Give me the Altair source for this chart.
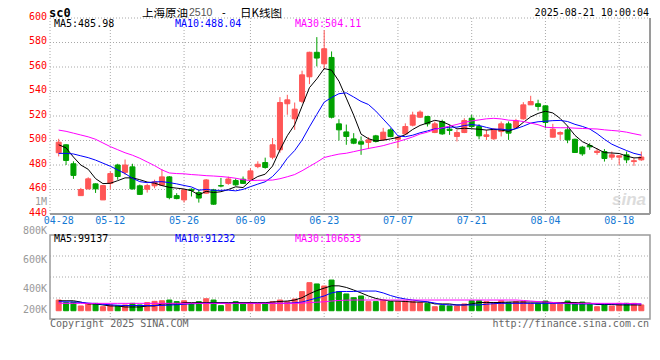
import altair as alt
import pandas as pd

# ---------------- data ----------------
dates = [
    "04-28", "04-29", "04-30", "05-06", "05-07", "05-08", "05-09", "05-12", "05-13", "05-14",
    "05-15", "05-16", "05-19", "05-20", "05-21", "05-22", "05-23", "05-26", "05-27", "05-28",
    "05-29", "05-30", "06-03", "06-04", "06-05", "06-06", "06-09", "06-10", "06-11", "06-12",
    "06-13", "06-16", "06-17", "06-18", "06-19", "06-20", "06-23", "06-24", "06-25", "06-26",
    "06-27", "06-30", "07-01", "07-02", "07-03", "07-04", "07-07", "07-08", "07-09", "07-10",
    "07-11", "07-14", "07-15", "07-16", "07-17", "07-18", "07-21", "07-22", "07-23", "07-24",
    "07-25", "07-28", "07-29", "07-30", "07-31", "08-01", "08-04", "08-05", "08-06", "08-07",
    "08-08", "08-11", "08-12", "08-13", "08-14", "08-15", "08-18", "08-19", "08-20", "08-21",
]
opens = [
    490.0, 496.5, 481.0, 455.0, 460.5, 464.6, 451.5, 465.0, 480.0, 474.0,
    478.5, 463.0, 460.2, 463.0, 463.5, 470.3, 455.0, 451.5, 460.2, 457.5,
    457.0, 459.7, 463.2, 465.0, 467.3, 468.4, 468.4, 478.7, 482.0, 486.4,
    492.4, 530.0, 517.7, 532.0, 552.0, 572.0, 562.6, 567.8, 513.6, 507.0,
    501.3, 499.0, 498.4, 503.8, 500.5, 508.7, 501.0, 505.4, 512.5, 519.0,
    519.6, 506.5, 515.5, 509.3, 503.3, 506.5, 518.2, 511.4, 503.3, 501.4,
    507.3, 513.6, 510.6, 517.7, 529.1, 530.0, 528.3, 502.7, 505.2, 508.7,
    501.0, 494.6, 495.9, 490.2, 491.0, 486.4, 486.4, 488.3, 482.8, 484.2,
]
highs = [
    501.4, 497.0, 483.0, 461.3, 470.0, 465.0, 463.5, 474.7, 481.0, 484.5,
    481.0, 464.0, 464.6, 468.0, 476.6, 471.0, 457.0, 460.2, 461.0, 460.2,
    468.5, 460.5, 469.5, 470.5, 469.0, 470.6, 477.4, 483.0, 486.0, 502.0,
    535.4, 537.3, 531.0, 557.0, 572.5, 584.4, 590.0, 572.7, 517.4, 513.0,
    506.0, 503.3, 502.7, 504.6, 510.3, 510.0, 503.8, 514.0, 523.5, 524.6,
    520.2, 515.5, 517.0, 512.8, 508.7, 518.2, 521.0, 513.3, 508.7, 510.0,
    515.5, 515.5, 517.7, 531.3, 536.5, 533.3, 528.5, 513.6, 507.5, 511.4,
    501.5, 495.6, 497.8, 493.7, 493.0, 491.0, 488.0, 491.0, 485.6, 491.0,
]
lows = [
    487.0, 480.0, 468.7, 454.8, 460.2, 457.2, 451.5, 460.0, 468.0, 472.0,
    460.0, 455.5, 457.5, 461.0, 463.0, 452.0, 452.0, 449.3, 454.3, 449.3,
    456.5, 447.5, 461.8, 463.8, 463.0, 464.5, 468.0, 477.4, 477.0, 484.7,
    490.0, 521.0, 508.7, 530.5, 546.0, 560.5, 558.0, 518.0, 500.0, 496.5,
    497.0, 488.3, 493.0, 498.4, 500.0, 502.7, 493.7, 504.6, 511.5, 518.3,
    511.4, 506.0, 504.6, 504.6, 499.2, 506.0, 510.0, 501.0, 500.5, 500.5,
    503.3, 500.5, 510.0, 517.0, 529.0, 524.5, 510.0, 502.5, 500.5, 497.8,
    490.0, 487.5, 492.4, 488.3, 482.8, 484.2, 480.0, 481.5, 479.3, 483.4,
]
closes = [
    498.6, 483.7, 471.5, 460.0, 468.7, 460.5, 463.2, 473.0, 470.6, 480.0,
    460.5, 456.0, 463.2, 466.2, 470.3, 453.4, 452.6, 459.7, 459.2, 453.0,
    467.8, 448.0, 462.8, 468.6, 463.8, 465.0, 475.2, 480.6, 478.0, 496.5,
    531.0, 533.2, 525.6, 553.6, 572.0, 567.3, 574.9, 519.0, 508.7, 503.3,
    497.8, 497.0, 500.5, 499.2, 506.8, 503.2, 502.7, 511.4, 520.8, 523.2,
    513.6, 513.6, 505.4, 508.2, 506.5, 516.3, 511.4, 503.8, 504.6, 509.3,
    513.6, 506.0, 516.0, 529.1, 531.8, 527.8, 514.7, 509.3, 506.5, 500.5,
    490.2, 489.1, 494.8, 491.3, 485.3, 488.3, 487.5, 484.2, 483.5, 486.5,
]
ma5 = [
    496.5, 494.0, 486.5, 480.0, 476.5, 468.9, 464.8, 465.1, 467.2, 469.5,
    469.5, 468.0, 466.1, 465.2, 463.2, 461.8, 461.1, 460.4, 459.0, 455.6,
    458.5, 457.5, 458.2, 460.0, 462.2, 461.6, 467.1, 470.6, 472.5, 479.1,
    492.3, 503.9, 512.9, 528.0, 543.1, 550.3, 558.7, 557.4, 548.4, 534.6,
    520.7, 505.2, 501.5, 499.6, 500.3, 501.3, 502.5, 504.7, 509.0, 512.3,
    514.3, 516.5, 515.3, 512.8, 509.5, 510.0, 509.6, 509.2, 508.5, 509.1,
    508.5, 507.5, 509.9, 514.8, 519.3, 522.1, 523.9, 522.5, 518.0, 511.8,
    504.2, 499.1, 496.2, 493.2, 490.1, 489.8, 489.4, 487.3, 485.8, 486.0,
]
ma10 = [
    489.5, 489.5, 489.0, 487.5, 486.0, 484.0, 481.5, 479.0, 476.0, 473.0,
    469.2, 466.4, 465.6, 466.2, 466.4, 465.6, 464.6, 463.3, 462.1, 459.4,
    460.1, 459.3, 459.3, 459.5, 458.9, 460.1, 462.3, 464.4, 466.3, 470.6,
    477.0, 485.5, 491.8, 500.3, 511.1, 521.3, 531.3, 535.1, 538.2, 538.9,
    535.5, 531.9, 529.4, 524.0, 517.5, 511.0, 503.8, 503.1, 504.3, 506.3,
    507.8, 509.5, 510.0, 510.9, 510.9, 512.2, 513.0, 512.3, 510.7, 509.3,
    509.3, 508.5, 509.6, 511.7, 514.2, 515.3, 515.7, 516.2, 516.4, 515.5,
    513.2, 511.5, 509.4, 505.6, 501.0, 497.0, 494.3, 491.8, 489.5, 488.1,
]
ma30 = [
    508.5, 507.5, 506.0, 504.5, 503.0, 501.0, 498.0, 495.0, 492.5, 490.0,
    488.0, 485.5, 482.5, 479.5, 476.0, 473.5, 473.0, 472.8, 472.2, 471.8,
    471.3, 471.0, 470.6, 470.0, 469.2, 468.0, 467.3, 467.5, 467.6, 467.7,
    468.8, 470.4, 472.2, 475.3, 478.8, 482.3, 486.1, 487.6, 488.9, 489.6,
    490.9, 492.2, 493.5, 494.6, 495.8, 497.5, 499.1, 500.9, 502.9, 505.3,
    506.8, 509.0, 510.4, 511.7, 513.1, 514.8, 516.0, 516.8, 517.7, 518.1,
    517.6, 516.6, 516.3, 515.5, 514.2, 512.9, 510.8, 510.5, 510.4, 510.4,
    510.1, 509.8, 509.6, 509.4, 508.7, 508.2, 507.7, 506.8, 505.5, 504.3,
]
# volume, in thousands, on the scale printed at the left of the volume panel
volumes = [
    321, 303, 307, 280, 294, 298, 275, 287, 280, 287,
    298, 287, 303, 312, 316, 321, 310, 316, 298, 310,
    330, 321, 282, 298, 310, 298, 303, 294, 294, 310,
    321, 310, 328, 379, 441, 432, 418, 459, 379, 363,
    337, 349, 310, 310, 321, 310, 310, 314, 310, 303,
    298, 275, 282, 280, 280, 294, 316, 316, 310, 303,
    316, 303, 310, 310, 298, 298, 314, 298, 298, 314,
    298, 307, 292, 275, 287, 280, 298, 298, 298, 287,
]
vol_base = 247  # level the volume bars stand on
vol_ma5 = [
    316, 316, 316, 307, 294, 294, 287, 280, 280, 273,
    273, 273, 280, 280, 294, 294, 294, 303, 303, 303,
    303, 303, 303, 303, 303, 303, 303, 303, 303, 307,
    311, 314, 321, 337, 364, 386, 403, 419, 419, 408,
    390, 370, 349, 332, 321, 314, 314, 311, 307, 307,
    307, 294, 294, 294, 287, 287, 294, 304, 304, 304,
    304, 307, 307, 307, 307, 307, 307, 304, 304, 304,
    304, 300, 300, 290, 290, 290, 287, 287, 287, 287,
]
vol_ma10 = [
    309, 309, 307, 305, 300, 296, 292, 288, 285, 283,
    283, 283, 283, 283, 284, 286, 289, 292, 295, 297,
    298, 298, 298, 298, 298, 298, 298, 298, 298, 298,
    298, 299, 302, 307, 321, 335, 349, 370, 380, 380,
    380, 383, 383, 383, 370, 352, 338, 328, 321, 314,
    309, 300, 290, 287, 287, 287, 287, 287, 292, 296,
    298, 298, 298, 298, 298, 298, 298, 298, 298, 296,
    294, 294, 294, 294, 294, 294, 294, 294, 294, 294,
]
vol_ma30 = [
    298, 298, 298, 298, 298, 298, 298, 298, 298, 298,
    298, 298, 298, 298, 298, 298, 298, 298, 298, 298,
    298, 298, 298, 298, 298, 298, 298, 298, 298, 298,
    298, 298, 298, 300, 303, 306, 309, 314, 318, 320,
    321, 321, 321, 321, 321, 321, 321, 321, 321, 321,
    321, 321, 321, 321, 321, 321, 321, 321, 321, 321,
    321, 321, 321, 318, 314, 310, 307, 304, 301, 298,
    298, 298, 298, 298, 298, 298, 298, 298, 296, 294,
]
x_tick_labels = ["04-28", "05-12", "05-26", "06-09", "06-23", "07-07", "07-21", "08-04", "08-18"]
price_ticks = [600, 580, 560, 540, 520, 500, 480, 460, 440]
vol_tick_values = [1000, 800, 600, 400, 200]
vol_tick_labels = ["1M", "800K", "600K", "400K", "200K"]
ma_names = ["MA5", "MA10", "MA30"]
price_ma_text = ["MA5:485.98", "MA10:488.04", "MA30:504.11"]
vol_ma_text = ["MA5:99137", "MA10:91232", "MA30:106633"]
symbol = "sc0"
title_name = "上海原油"
title_code = "2510"
title_dash = "-"
title_kind = "日K线图"
timestamp = "2025-08-21 10:00:04"
footer_left = "Copyright 2025 SINA.COM"
footer_right = "http://finance.sina.com.cn"
watermark = "sina"

# ---------------- layout / style ----------------
W = 600            # plot width (both panels)
PH = 196           # price panel height
VT, VB = 217, 301  # volume panel top / bottom inside the view
H = VB
MONO = "DejaVu Sans Mono"
CJK = "Noto Sans CJK SC"
UP, DOWN = "#ff5656", "#00a100"
GRID = "#a8a8a8"
FRAME = "#9a9a9a"
MA_COLORS = ["#000000", "#0000ff", "#ff00ff"]
VOL_LO, VOL_HI = 190, 770
FS = 10

n = len(dates)
for arr in (opens, highs, lows, closes, ma5, ma10, ma30, volumes, vol_ma5, vol_ma10, vol_ma30):
    assert len(arr) == n

df = pd.DataFrame({"i": range(n), "date": dates, "open": opens, "high": highs,
                   "low": lows, "close": closes, "vol": volumes})
df["dir"] = ["up" if c >= o else "down" for o, c in zip(opens, closes)]

ma_df = pd.concat([pd.DataFrame({"i": range(n), "v": s, "ma": name})
                   for name, s in zip(ma_names, [ma5, ma10, ma30])])
vma_df = pd.concat([pd.DataFrame({"i": range(n), "v": s, "ma": name})
                    for name, s in zip(ma_names, [vol_ma5, vol_ma10, vol_ma30])])

tick_df = pd.DataFrame({"label": x_tick_labels, "i": [dates.index(d) for d in x_tick_labels]})
grid_df = tick_df.iloc[1:]
one = pd.DataFrame({"k": [0]})

x_scale = alt.Scale(domain=[-0.5, n - 0.5], nice=False, zero=False)
p_scale = alt.Scale(domain=[440, 600], range=[PH, 0], nice=False, zero=False)
v_scale = alt.Scale(domain=[VOL_LO, VOL_HI], range=[VB, VT], nice=False, zero=False)
X = alt.X("i:Q", scale=x_scale, axis=None)
dir_scale = alt.Scale(domain=["up", "down"], range=[UP, DOWN])
ma_scale = alt.Scale(domain=ma_names, range=MA_COLORS)

layers = []

# --- watermark (behind everything) ---
layers.append(alt.Chart(one).mark_text(text=watermark, align="right", baseline="middle", font="Liberation Sans",
                                       fontSize=17, fontWeight="bold", fontStyle="italic", color="#dcdcdc")
              .encode(x=alt.value(W - 4), y=alt.value(PH - 14)))

# --- price panel frame and grid ---
layers.append(alt.Chart(pd.DataFrame({"p": [p for p in price_ticks if p > 440]}))
              .mark_rule(color=GRID, strokeDash=[1, 2], strokeWidth=1)
              .encode(y=alt.Y("p:Q", scale=p_scale, axis=None), x=alt.value(0), x2=alt.value(W)))
layers.append(alt.Chart(grid_df).mark_rule(color=GRID, strokeDash=[1, 2], strokeWidth=1)
              .encode(x=X, y=alt.value(0), y2=alt.value(PH)))
layers.append(alt.Chart(one).mark_rule(color=GRID, strokeDash=[1, 2], strokeWidth=1)
              .encode(x=alt.value(0), y=alt.value(0), y2=alt.value(PH)))
layers.append(alt.Chart(one).mark_rule(color=FRAME, strokeWidth=2)
              .encode(x=alt.value(W), y=alt.value(0), y2=alt.value(PH)))
layers.append(alt.Chart(one).mark_rule(color=FRAME, strokeWidth=2)
              .encode(y=alt.value(PH), x=alt.value(0), x2=alt.value(W)))

# --- volume panel frame and grid ---
layers.append(alt.Chart(pd.DataFrame({"q": [VOL_LO + (VOL_HI - VOL_LO) * k / 4 for k in (1, 2, 3)]}))
              .mark_rule(color=GRID, strokeDash=[1, 2], strokeWidth=1)
              .encode(y=alt.Y("q:Q", scale=v_scale, axis=None), x=alt.value(0), x2=alt.value(W)))
layers.append(alt.Chart(grid_df).mark_rule(color=GRID, strokeDash=[1, 2], strokeWidth=1)
              .encode(x=X, y=alt.value(VT), y2=alt.value(VB)))
layers.append(alt.Chart(one).mark_rect(fillOpacity=0, stroke=FRAME, strokeWidth=1.5)
              .encode(x=alt.value(0), x2=alt.value(W), y=alt.value(VT), y2=alt.value(VB)))

# --- volume bars and their moving averages ---
layers.append(alt.Chart(df).transform_calculate(vb=str(vol_base))
              .mark_bar(size=5, strokeWidth=1)
              .encode(x=X, y=alt.Y("vol:Q", scale=v_scale, axis=None), y2="vb:Q",
                      color=alt.Color("dir:N", scale=dir_scale, legend=None),
                      stroke=alt.Stroke("dir:N", scale=dir_scale, legend=None)))
layers.append(alt.Chart(vma_df).mark_line(strokeWidth=1)
              .encode(x=X, y=alt.Y("v:Q", scale=v_scale, axis=None),
                      color=alt.Color("ma:N", scale=ma_scale, legend=None)))

# --- candles ---
layers.append(alt.Chart(df).mark_rule(strokeWidth=1)
              .encode(x=X, y=alt.Y("low:Q", scale=p_scale, axis=None), y2="high:Q",
                      color=alt.Color("dir:N", scale=dir_scale, legend=None)))
layers.append(alt.Chart(df).mark_bar(size=5, strokeWidth=1)
              .encode(x=X, y=alt.Y("open:Q", scale=p_scale, axis=None), y2="close:Q",
                      color=alt.Color("dir:N", scale=dir_scale, legend=None),
                      stroke=alt.Stroke("dir:N", scale=dir_scale, legend=None)))
layers.append(alt.Chart(ma_df).mark_line(strokeWidth=1)
              .encode(x=X, y=alt.Y("v:Q", scale=p_scale, axis=None),
                      color=alt.Color("ma:N", scale=ma_scale, legend=None)))

# --- axis labels ---
layers.append(alt.Chart(pd.DataFrame({"p": price_ticks}))
              .mark_text(align="right", baseline="middle", font=MONO, fontSize=FS, color="#ff0000", dy=-1.5)
              .encode(y=alt.Y("p:Q", scale=p_scale, axis=None), x=alt.value(-3), text=alt.Text("p:Q")))
layers.append(alt.Chart(pd.DataFrame({"v": vol_tick_values, "t": vol_tick_labels}))
              .transform_calculate(vy="max(datum.v, 255)")
              .mark_text(align="right", baseline="middle", font=MONO, fontSize=FS, color="#999999")
              .encode(y=alt.Y("vy:Q", scale=v_scale, axis=None), x=alt.value(-3), text="t:N"))
layers.append(alt.Chart(tick_df)
              .mark_text(align="center", baseline="middle", font=MONO, fontSize=FS, color="#1479d4")
              .encode(x=X, y=alt.value(PH + 7), text="label:N"))

# --- MA legends ---
for txt, col, xpx in zip(price_ma_text, MA_COLORS, [4, 125, 245]):
    layers.append(alt.Chart(one).mark_text(text=txt, align="left", baseline="middle", font=MONO,
                                           fontSize=FS, color=col)
                  .encode(x=alt.value(xpx), y=alt.value(5.5)))
for txt, col, xpx in zip(vol_ma_text, MA_COLORS, [4, 125, 245]):
    layers.append(alt.Chart(one).mark_text(text=txt, align="left", baseline="middle", font=MONO,
                                           fontSize=FS, color=col)
                  .encode(x=alt.value(xpx), y=alt.value(VT + 4)))

# --- titles and footers ---
def label(txt, xpx, ypx, baseline="alphabetic", **kw):
    return (alt.Chart(one).mark_text(text=txt, baseline=baseline, **kw)
            .encode(x=alt.value(xpx), y=alt.value(ypx)))

layers.append(label(symbol, -1, -1.5, align="left", font=MONO, fontSize=12, fontWeight="bold", color="#000000"))
layers.append(label(title_name, 92, -1.3, align="left", font=CJK, fontSize=11.5, color="#000000"))
layers.append(label(title_code, 139, -1.8, align="left", font="Liberation Sans", fontSize=10.5, color="#555555"))
layers.append(label(title_dash, 172, -2.5, align="left", font="Liberation Sans", fontSize=11, color="#000000"))
layers.append(label(title_kind, 190, -1.3, align="left", font=CJK, fontSize=11.5, color="#000000"))
layers.append(label(timestamp, 599, -1.8, align="right", font=MONO, fontSize=FS, color="#000000"))
layers.append(label(footer_left, 0, VB + 4.5, baseline="middle", align="left", font=MONO, fontSize=FS, color="#666666"))
layers.append(label(footer_right, 599, VB + 4.5, baseline="middle", align="right", font=MONO, fontSize=FS, color="#666666"))

chart = (alt.layer(*layers)
         .resolve_scale(y="independent", color="independent", stroke="independent")
         .properties(width=W, height=H, autosize=alt.AutoSizeParams(type="none"),
                     padding={"left": 42, "top": 10, "right": 2, "bottom": 33},
                     background="white")
         .configure_view(strokeWidth=0))

chart.save("out.html", embed_options={"renderer": "svg", "actions": False})
